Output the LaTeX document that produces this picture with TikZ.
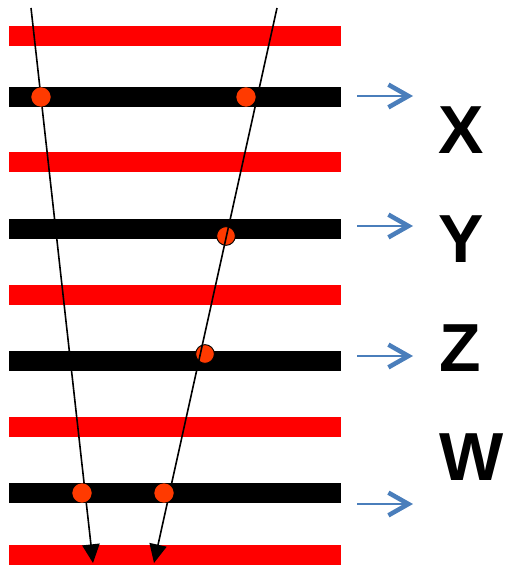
\documentclass[tikz,border=0pt]{standalone}
\usepackage{fontspec}
\setmainfont{Liberation Sans}
\usetikzlibrary{arrows.meta}
\definecolor{barred}{HTML}{FF0000}
\definecolor{dotred}{HTML}{FF3A00}
\definecolor{pointblue}{HTML}{4A7EBB}

\begin{document}
\begin{tikzpicture}[
  x=0.75pt, y=-0.75pt,
  redbar/.style={fill=barred},
  blackbar/.style={fill=black},
  hit/.style={circle, fill=dotred, draw=dotred, inner sep=0pt, minimum size=14pt},
  hitrim/.style={hit, draw=black, line width=0.7pt},
  ray/.style={-{Triangle[length=14pt,width=13pt]}, line width=1.2pt},
  pointer/.style={-{Straight Barb[length=15pt,width=17pt,line width=3.4pt 0]}, draw=pointblue, line width=1.5pt},
  letter/.style={font=\fontsize{51}{51}\selectfont\bfseries, inner sep=0pt}
]
\useasboundingbox (0,0) rectangle (508,566);
% layers
\foreach \y in {36,162,295,427,555}
  \fill[redbar] (9,\y-10) rectangle (341,\y+10);
\foreach \y in {97,229,361,493}
  \fill[blackbar] (9,\y-10) rectangle (341,\y+10);
% hits under the right ray
\node[hitrim] (r2) at (226,236) {};
\node[hitrim] (r3) at (205,354) {};
% rays
\coordinate (ltop) at (31,8);
\coordinate (lend) at (93,563);
\coordinate (rtop) at (277,8);
\coordinate (rend) at (154,563);
\draw[ray] (ltop) -- (lend);
\draw[ray] (rtop) -- (rend);
% hits over the rays
\node[hit] (l1) at (41,97) {};
\node[hit] (r1) at (246,97) {};
\node[hit] (l4) at (82,493) {};
\node[hit] (r4) at (164,493) {};
% labels
\node[letter] (X) at (461,130) {X};
\node[letter] (Y) at (461,239) {Y};
\node[letter] (Z) at (460,348) {Z};
\node[letter] (W) at (472,457) {W};
\coordinate (p1) at (357,96);
\coordinate (q1) at (413,96);
\coordinate (p2) at (357,226);
\coordinate (q2) at (413,226);
\coordinate (p3) at (357,356);
\coordinate (q3) at (413,356);
\coordinate (p4) at (357,504);
\coordinate (q4) at (413,504);
\draw[pointer] (p1) -- (q1);
\draw[pointer] (p2) -- (q2);
\draw[pointer] (p3) -- (q3);
\draw[pointer] (p4) -- (q4);
\end{tikzpicture}
\end{document}
